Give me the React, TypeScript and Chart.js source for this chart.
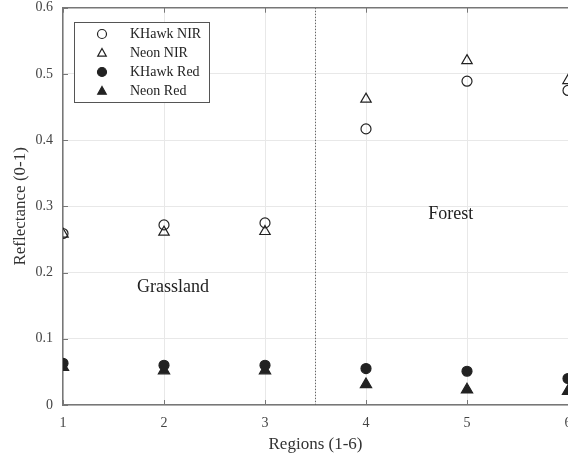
import React, { useEffect, useRef } from "react";
import { Chart, registerables } from "chart.js";
Chart.register(...registerables);

const regions = [1, 2, 3, 4, 5, 6];
const khawkNir = [0.259, 0.272, 0.275, 0.417, 0.489, 0.475];
const neonNir = [0.258, 0.261, 0.262, 0.462, 0.52, 0.49];
const khawkRed = [0.063, 0.06, 0.06, 0.055, 0.051, 0.04];
const neonRed = [0.057, 0.052, 0.052, 0.031, 0.023, 0.021];
const yTicks = [0, 0.1, 0.2, 0.3, 0.4, 0.5, 0.6];
const seriesNames = ["KHawk NIR", "Neon NIR", "KHawk Red", "Neon Red"];
const dividerX = 3.5;
const labels = [
  { text: "Grassland", x: 2.09, y: 0.178 },
  { text: "Forest", x: 4.84, y: 0.288 },
];

const FONT = "'Liberation Serif', 'Times New Roman', serif";
const INK = "#222";

function drawMarker(ctx: CanvasRenderingContext2D, style: string, filled: boolean, x: number, y: number, r: number) {
  ctx.beginPath();
  if (style === "circle") {
    ctx.arc(x, y, r, 0, Math.PI * 2);
  } else {
    ctx.moveTo(x, y - r);
    ctx.lineTo(x + r * 0.95, y + r * 0.7);
    ctx.lineTo(x - r * 0.95, y + r * 0.7);
    ctx.closePath();
  }
  ctx.fillStyle = filled ? INK : "#fff";
  ctx.fill();
  ctx.lineWidth = 1.2;
  ctx.strokeStyle = INK;
  ctx.stroke();
}

const decorPlugin = {
  id: "decor",
  beforeDatasetsDraw(chart: any) {
    const { ctx, chartArea, scales } = chart;
    const xs = scales.x;
    const ys = scales.y;
    ctx.save();
    const px = xs.getPixelForValue(dividerX);
    ctx.setLineDash([1.5, 1.5]);
    ctx.strokeStyle = "#666";
    ctx.lineWidth = 1;
    ctx.beginPath();
    ctx.moveTo(px, chartArea.top);
    ctx.lineTo(px, chartArea.bottom);
    ctx.stroke();
    ctx.setLineDash([]);
    ctx.strokeStyle = "#777";
    ctx.lineWidth = 1.5;
    ctx.beginPath();
    ctx.moveTo(chartArea.left, chartArea.top);
    ctx.lineTo(chartArea.right + 40, chartArea.top);
    ctx.stroke();
    ctx.lineWidth = 1;
    regions.forEach((v) => {
      const x = Math.round(xs.getPixelForValue(v)) + 0.5;
      ctx.beginPath();
      ctx.moveTo(x, chartArea.bottom);
      ctx.lineTo(x, chartArea.bottom - 5);
      ctx.moveTo(x, chartArea.top);
      ctx.lineTo(x, chartArea.top + 5);
      ctx.stroke();
    });
    yTicks.forEach((v) => {
      const y = Math.round(ys.getPixelForValue(v)) + 0.5;
      ctx.beginPath();
      ctx.moveTo(chartArea.left, y);
      ctx.lineTo(chartArea.left + 5, y);
      ctx.stroke();
    });
    ctx.fillStyle = INK;
    ctx.font = `18px ${FONT}`;
    ctx.textAlign = "center";
    ctx.textBaseline = "middle";
    labels.forEach((l) => {
      ctx.fillText(l.text, xs.getPixelForValue(l.x), ys.getPixelForValue(l.y));
    });
    ctx.restore();
  },
  afterDatasetsDraw(chart: any) {
    const { ctx } = chart;
    ctx.save();
    const bx = 74, by = 22, bw = 135, bh = 80;
    ctx.fillStyle = "#fff";
    ctx.fillRect(bx, by, bw, bh);
    ctx.strokeStyle = "#555";
    ctx.lineWidth = 1;
    ctx.strokeRect(bx + 0.5, by + 0.5, bw, bh);
    const styles = [
      ["circle", false],
      ["triangle", false],
      ["circle", true],
      ["triangle", true],
    ] as const;
    ctx.font = `14px ${FONT}`;
    ctx.textAlign = "left";
    ctx.textBaseline = "middle";
    seriesNames.forEach((name, i) => {
      const y = by + 12 + i * 19;
      drawMarker(ctx, styles[i][0], styles[i][1], 102, y, 4.5);
      ctx.fillStyle = INK;
      ctx.fillText(name, 130, y);
    });
    ctx.restore();
  },
};

export default function App() {
  const ref = useRef<HTMLCanvasElement>(null);
  useEffect(() => {
    if (!ref.current) return;
    const mk = (data: number[], style: string, filled: boolean, r: number) => ({
      data: regions.map((x, i) => ({ x, y: data[i] })),
      pointStyle: style,
      pointRadius: r,
      pointBackgroundColor: filled ? INK : "rgba(255,255,255,0)",
      pointBorderColor: INK,
      pointBorderWidth: 1.2,
      showLine: false,
    });
    const chart = new Chart(ref.current, {
      type: "scatter",
      data: {
        datasets: [
          { label: seriesNames[0], ...mk(khawkNir, "circle", false, 5) },
          { label: seriesNames[1], ...mk(neonNir, "triangle", false, 6) },
          { label: seriesNames[2], ...mk(khawkRed, "circle", true, 5) },
          { label: seriesNames[3], ...mk(neonRed, "triangle", true, 6.5) },
        ] as any,
      },
      options: {
        animation: false,
        responsive: false,
        maintainAspectRatio: false,
        layout: { padding: { left: 0, top: 6, right: 32, bottom: 0 } },
        plugins: { legend: { display: false }, tooltip: { enabled: false } },
        scales: {
          x: {
            type: "linear",
            min: 1,
            max: 6,
            afterBuildTicks: (s: any) => {
              s.ticks = regions.map((v) => ({ value: v }));
            },
            afterFit: (s: any) => {
              s.height = 56;
            },
            grid: { color: "#e8e8e8", drawTicks: false },
            border: { color: "#777", width: 1.5 },
            ticks: { color: "#444", font: { family: FONT, size: 14 }, padding: 10, callback: (v: any) => String(v) },
            title: { display: true, text: "Regions (1-6)", color: "#333", font: { family: FONT, size: 17 }, padding: { top: 2, bottom: 6 } },
          },
          y: {
            type: "linear",
            min: 0,
            max: 0.6,
            afterBuildTicks: (s: any) => {
              s.ticks = yTicks.map((v) => ({ value: v }));
            },
            afterFit: (s: any) => {
              s.width = 63;
              s.paddingTop = 0;
              s.paddingBottom = 0;
            },
            grid: { color: "#e8e8e8", drawTicks: false },
            border: { color: "#777", width: 1.5 },
            ticks: { color: "#444", font: { family: FONT, size: 14 }, padding: 10, callback: (v: any) => String(Math.round(v * 10) / 10) },
            title: { display: true, text: "Reflectance (0-1)", color: "#333", font: { family: FONT, size: 17 }, padding: { top: 10, bottom: 4 } },
          },
        },
      },
      plugins: [decorPlugin],
    });
    return () => chart.destroy();
  }, []);
  return (
    <div style={{ position: "fixed", left: 0, top: 0, width: 568, height: 461, overflow: "hidden", background: "#fff" }}>
      <canvas ref={ref} width={600} height={461} style={{ display: "block" }} />
    </div>
  );
}
